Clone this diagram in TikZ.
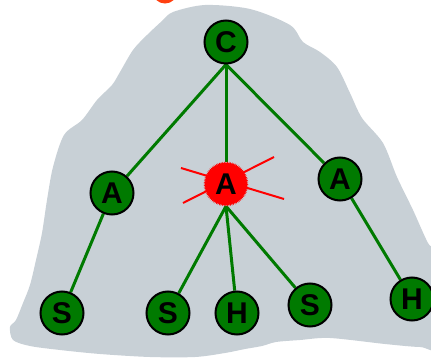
\documentclass[tikz,border=0pt]{standalone}
\usepackage{fontspec}
\setmainfont{Liberation Sans}
\usetikzlibrary{backgrounds,decorations.pathmorphing,calc}
\definecolor{blobgray}{HTML}{C8D0D6}
\definecolor{nodegreen}{HTML}{007A00}
\definecolor{titleorange}{HTML}{FF4010}
\tikzset{
  treenode/.style={circle, draw=black, line width=2pt, fill=nodegreen, minimum size=43pt, inner sep=0pt,
    font=\fontsize{30}{30}\selectfont\bfseries, text=black},
  deadnode/.style={circle, minimum size=44pt, inner sep=0pt, font=\fontsize{30}{30}\selectfont\bfseries, text=black},
  treeedge/.style={draw=nodegreen, line width=3pt},
  crossline/.style={draw=red, line width=2pt},
  blob/.style={fill=blobgray}
}
\begin{document}
\begin{tikzpicture}[x=1pt,y=-1pt]
\useasboundingbox (0,0) rectangle (431,361);
% title fragment
\begin{scope}
\clip (0,0) rectangle (431,361);
\draw[titleorange, line width=5pt] (175,-9) arc[start angle=0, end angle=180, x radius=10, y radius=10];
\end{scope}
% nodes
\node[treenode] (C) at (226,42) {C};
\node[treenode] (A1) at (112,193) {A};
\fill[red, decorate, decoration={zigzag, segment length=1.6pt, amplitude=1pt}] (226,184) circle (21.5);
\node[deadnode] (A2) at (226,184) {A};
\node[treenode] (A3) at (340,179) {A};
\node[treenode] (S1) at (62,313) {S};
\node[treenode] (S2) at (168,313) {S};
\node[treenode] (H1) at (237,313) {H};
\node[treenode] (S3) at (310,305) {S};
\node[treenode] (H2) at (412,299) {H};
\begin{scope}[on background layer]
\fill[blob] plot[smooth cycle, tension=0.5] coordinates {
 (173,12) (205,5) (250,9) (290,25) (303,42) (320,52) (337,67) (350,93) (362,118)
 (383,143) (397,177) (413,210) (428,243) (440,260) (440,345) (420,347) (385,344)
 (330,338) (300,340) (276,342) (262,346) (245,349) (225,353) (195,357) (150,357)
 (100,354) (60,350) (30,346) (13,340) (10,327) (16,320) (23,303) (30,285) (36,260)
 (42,233) (47,200) (53,167) (64,135) (82,120) (97,100) (112,85) (120,72) (133,50)
 (147,35) (162,21)};
\draw[treeedge] (C.south) -- (A1);
\draw[treeedge] (C.south) -- (A2);
\draw[treeedge] (C.south) -- (A3);
\draw[treeedge] (A1) -- (S1);
\draw[treeedge] (A2.south) -- (S2);
\draw[treeedge] (A2.south) -- (H1);
\draw[treeedge] (A2.south) -- (S3);
\draw[treeedge] (A3) -- (H2);
\draw[crossline] ($(A2)+(-45,-16)$) -- ($(A2)+(58,15)$);
\draw[crossline] ($(A2)+(48,-27)$) -- ($(A2)+(-43,19)$);
\end{scope}
\end{tikzpicture}
\end{document}
